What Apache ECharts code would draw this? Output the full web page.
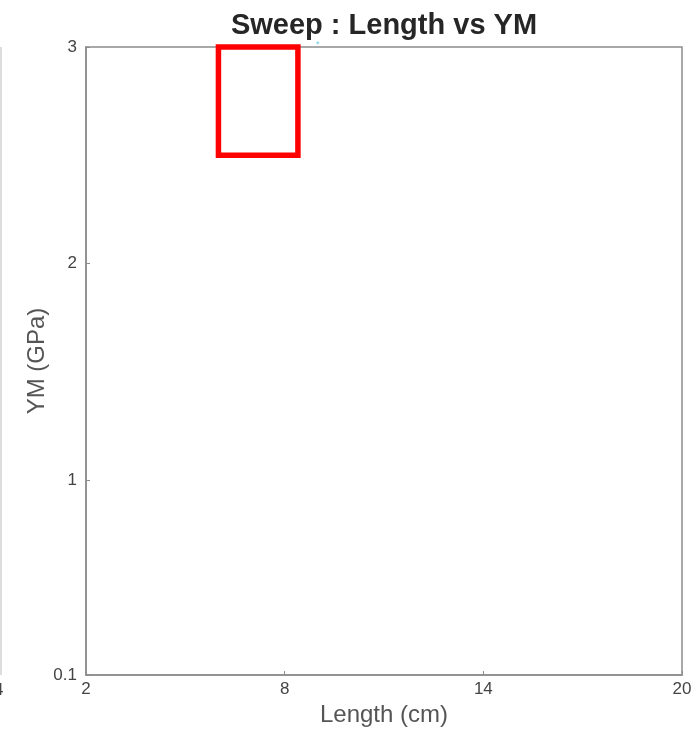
<!DOCTYPE html>
<html>
<head>
<meta charset="utf-8">
<title>Sweep : Length vs YM</title>
<script src="https://cdn.jsdelivr.net/npm/echarts@6/dist/echarts.min.js"></script>
<style>
  html, body { margin: 0; padding: 0; background: #fff; }
  #chart { width: 700px; height: 729px; }
</style>
</head>
<body>
<div id="chart"></div>
<script>
// Axis ranges and tick labels
const xTicks = [2, 8, 14, 20];
const yTicks = [0.1, 1, 2, 3];

// Highlighted sweep region: [lengthStart, lengthEnd, ymLow, ymHigh]
const sweepRegion = [6, 8.4, 2.5, 3];

// Single sweep sample sitting on the upper YM limit
const sweepPoints = [[9, 3.02]];

const FONT = '"Liberation Sans", Arial, Helvetica, sans-serif';

const chart = echarts.init(document.getElementById('chart'), null, { renderer: 'canvas' });

chart.setOption({
  backgroundColor: '#ffffff',
  animation: false,
  title: {
    text: 'Sweep : Length vs YM',
    left: 379,
    top: 6,
    textAlign: 'center',
    textStyle: { fontFamily: FONT, fontSize: 29, fontWeight: 'bold', color: '#262626' }
  },
  grid: {
    left: 86, top: 47, width: 596, height: 628,
    containLabel: false, outerBoundsMode: 'none',
    show: true, borderColor: '#8c8c8c', borderWidth: 1.5, backgroundColor: '#fff'
  },
  xAxis: {
    type: 'value',
    min: xTicks[0],
    max: xTicks[xTicks.length - 1],
    interval: 6,
    name: 'Length (cm)',
    nameLocation: 'middle',
    nameGap: 28,
    nameMoveOverlap: false,
    nameTextStyle: { fontFamily: FONT, fontSize: 24, color: '#555' },
    axisLine: { show: true, lineStyle: { color: '#8c8c8c', width: 1.5 } },
    axisTick: { show: true, inside: true, length: 4, lineStyle: { color: '#8c8c8c' } },
    axisLabel: { fontFamily: FONT, fontSize: 17, color: '#444', margin: 6 },
    splitLine: { show: false }
  },
  yAxis: {
    type: 'value',
    min: yTicks[0],
    max: yTicks[yTicks.length - 1],
    name: 'YM (GPa)',
    nameLocation: 'middle',
    nameGap: 37,
    nameMoveOverlap: false,
    nameRotate: 90,
    nameTextStyle: { fontFamily: FONT, fontSize: 24, color: '#555' },
    axisLine: { show: true, lineStyle: { color: '#8c8c8c', width: 1.5 } },
    axisTick: { show: true, inside: true, length: 4, customValues: yTicks, lineStyle: { color: '#8c8c8c' } },
    axisLabel: { fontFamily: FONT, fontSize: 17, color: '#444', margin: 9, customValues: yTicks,
      formatter: v => String(v) },
    splitLine: { show: false }
  },
  graphic: [
    // edge of the neighbouring panel
    { type: 'line', shape: { x1: 1, y1: 47, x2: 1, y2: 675 }, style: { stroke: '#d0d0d0', lineWidth: 1.5 }, silent: true },
    { type: 'text', x: -6, y: 682, style: { text: '4', font: '17px ' + FONT, fill: '#444' }, silent: true }
  ],
  series: [
    {
      type: 'custom',
      name: 'Sweep region',
      clip: false,
      data: [sweepRegion],
      renderItem: function (params, api) {
        const p0 = api.coord([api.value(0), api.value(3)]);
        const p1 = api.coord([api.value(1), api.value(2)]);
        return {
          type: 'rect',
          shape: { x: p0[0], y: p0[1], width: p1[0] - p0[0], height: p1[1] - p0[1] },
          style: { fill: 'none', stroke: '#ff0000', lineWidth: 5.5 }
        };
      },
      z: 3
    },
    {
      type: 'scatter',
      name: 'Sweep samples',
      data: sweepPoints,
      symbolSize: 3,
      clip: false,
      itemStyle: { color: '#7fd4e8' },
      z: 2
    }
  ]
});
</script>
</body>
</html>
